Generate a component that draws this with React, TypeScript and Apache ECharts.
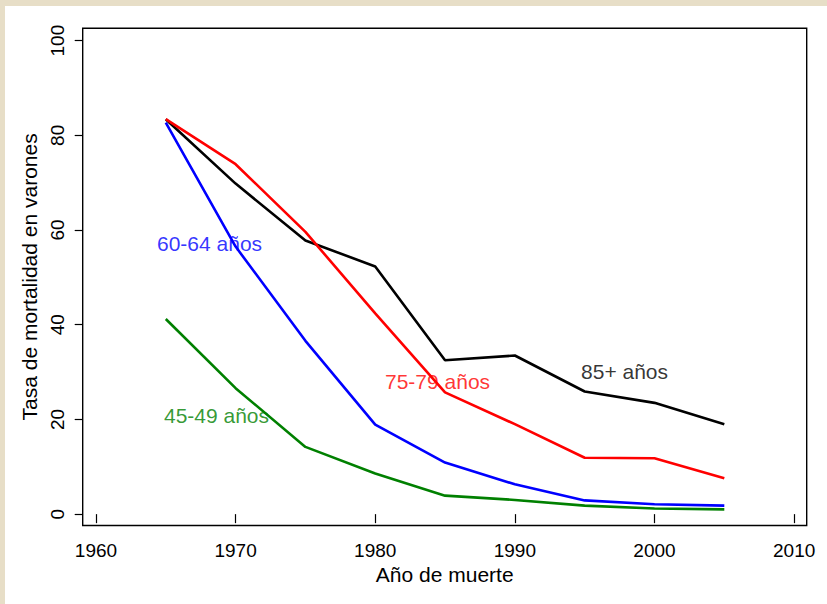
import React, { useEffect, useRef } from "react";
import * as echarts from "echarts";

// Año de muerte
const years = [1965, 1970, 1975, 1980, 1985, 1990, 1995, 2000, 2005];

// Tasa de mortalidad en varones por grupo de edad
const age85plus = [83.4, 69.8, 57.8, 52.3, 32.5, 33.5, 25.9, 23.5, 19.0];
const age7579 = [83.4, 73.9, 59.6, 42.4, 25.7, 19.0, 11.9, 11.8, 7.6];
const age6064 = [82.7, 56.5, 36.6, 18.9, 10.9, 6.3, 2.9, 2.1, 1.8];
const age4549 = [41.2, 26.6, 14.2, 8.6, 3.9, 3.0, 1.8, 1.2, 1.0];

const xTicks = [1960, 1970, 1980, 1990, 2000, 2010];
const yTicks = [0, 20, 40, 60, 80, 100];

const seriesNames = ["85+ años", "75-79 años", "60-64 años", "45-49 años"];
const seriesColors = ["#000000", "#ff0000", "#0000ff", "#008000"];
const seriesValues = [age85plus, age7579, age6064, age4549];

// Anchor (año, tasa) for each in-plot label: left edge, vertical centre
const labelAnchors: [number, number][] = [
  [1994.74, 30.2],
  [1980.7, 28.1],
  [1964.37, 57.2],
  [1964.87, 20.9],
];

const FONT = "'Liberation Sans', Arial, Helvetica, sans-serif";

export default function App() {
  const ref = useRef<HTMLDivElement>(null);

  useEffect(() => {
    if (!ref.current) return;
    const chart = echarts.init(ref.current, undefined, { renderer: "svg" });

    const lineSeries = seriesValues.map((vals, i) => ({
      type: "line",
      name: seriesNames[i],
      data: years.map((y, j) => [y, vals[j]]),
      symbol: "none",
      lineStyle: { color: seriesColors[i], width: 2.6 },
      z: 3,
    }));

    const labelSeries = labelAnchors.map((a, i) => ({
      type: "scatter",
      data: [a],
      symbolSize: 0,
      silent: true,
      label: {
        show: true,
        position: "right",
        distance: 0,
        formatter: seriesNames[i],
        color: seriesColors[i],
        fontSize: 21,
        fontFamily: FONT,
      },
      z: 4,
    }));

    chart.setOption({
      animation: false,
      backgroundColor: "#ffffff",
      textStyle: { fontFamily: FONT },
      graphic: [
        { type: "rect", left: 0, top: 0, shape: { width: 827, height: 6 }, style: { fill: "#e7dec7" }, z: 0 },
        { type: "rect", left: 0, top: 0, shape: { width: 5, height: 604 }, style: { fill: "#e7dec7" }, z: 0 },
      ],
      grid: {
        left: 82.7,
        right: 20.3,
        top: 28.3,
        bottom: 78.5,
        show: true,
        borderColor: "#000000",
        borderWidth: 1.4,
        backgroundColor: "#ffffff",
      },
      xAxis: {
        type: "value",
        min: 1959.05,
        max: 2010.9,
        name: "Año de muerte",
        nameLocation: "middle",
        nameGap: 34,
        nameTextStyle: { fontSize: 21, color: "#000", fontFamily: FONT },
        axisLine: { show: false },
        splitLine: { show: false },
        axisTick: {
          show: true,
          length: 9,
          customValues: xTicks,
          lineStyle: { color: "#000", width: 1.2 },
        },
        axisLabel: {
          customValues: xTicks,
          formatter: (v: number) => String(v),
          fontSize: 19,
          color: "#000",
          margin: 15,
          fontFamily: FONT,
        },
      },
      yAxis: {
        type: "value",
        min: -2.4,
        max: 102.6,
        name: "Tasa de mortalidad en varones",
        nameLocation: "middle",
        nameGap: 30,
        nameTextStyle: { fontSize: 21, color: "#000", fontFamily: FONT },
        axisLine: { show: false },
        splitLine: { show: false },
        axisTick: {
          show: true,
          length: 8,
          customValues: yTicks,
          lineStyle: { color: "#000", width: 1.2 },
        },
        axisLabel: {
          customValues: yTicks,
          formatter: (v: number) => String(v),
          rotate: 90,
          fontSize: 19,
          color: "#000",
          margin: 16,
          fontFamily: FONT,
        },
      },
      series: [...lineSeries, ...labelSeries],
    });

    return () => chart.dispose();
  }, []);

  return (
    <div
      ref={ref}
      style={{ position: "fixed", left: 0, top: 0, width: 827, height: 604 }}
    />
  );
}
